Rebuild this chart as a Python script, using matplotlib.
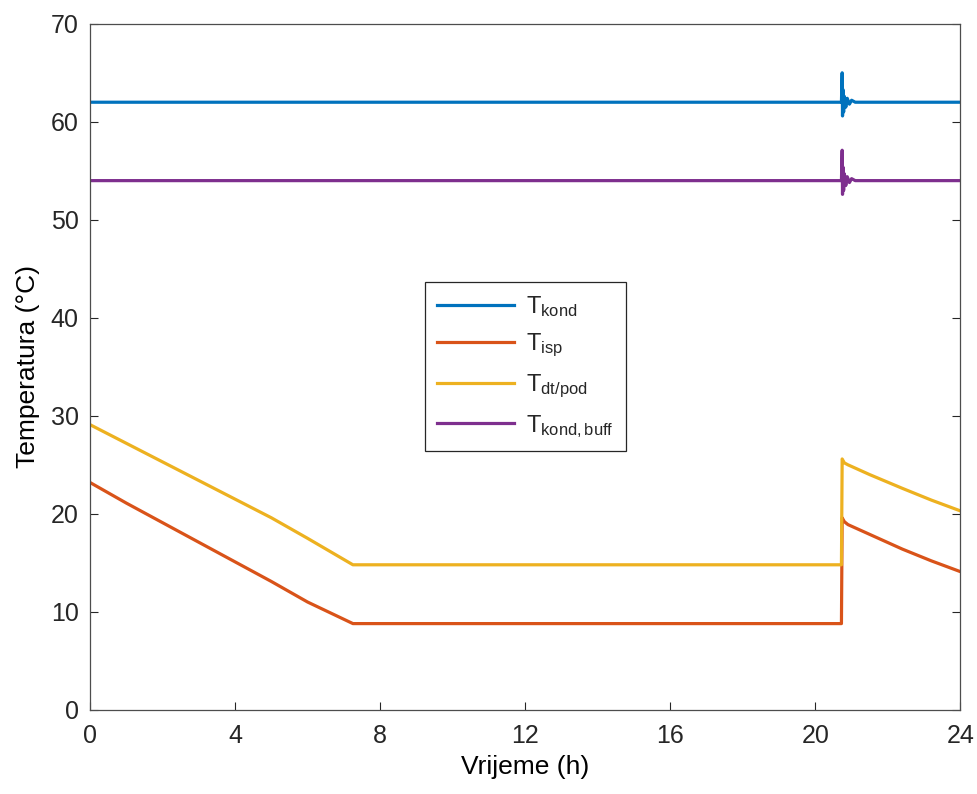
import matplotlib
matplotlib.use("Agg")
import matplotlib.pyplot as plt

plt.rcParams.update({
    'font.family': ['Liberation Sans', 'DejaVu Sans'],
    'mathtext.fontset': 'custom',
    'mathtext.rm': 'Liberation Sans',
    'mathtext.it': 'Liberation Sans',
    'axes.edgecolor': '#262626',
    'xtick.color': '#262626',
    'ytick.color': '#262626',
    'text.color': '#262626',
})

# time points (h) and temperatures (°C)
t_kond = [0, 20.72, 20.74, 20.75, 20.76, 20.78, 20.80, 20.84, 20.88, 20.94, 21.0, 21.1, 24]
T_kond = [62.0, 62.0, 65.0, 60.6, 63.3, 61.0, 62.6, 61.5, 62.4, 61.8, 62.2, 62.0, 62.0]

t_buff = [0, 20.72, 20.74, 20.75, 20.76, 20.78, 20.80, 20.84, 20.88, 20.94, 21.0, 21.1, 24]
T_buff = [54.0, 54.0, 57.1, 52.6, 55.4, 53.0, 54.7, 53.5, 54.4, 53.8, 54.2, 54.0, 54.0]

t_isp = [0, 1, 2, 3, 4, 5, 6, 7.25, 20.72, 20.74, 20.80, 20.90, 21.5, 22.4, 23.2, 24]
T_isp = [23.2, 21.1, 19.1, 17.1, 15.1, 13.1, 11.0, 8.8, 8.8, 19.6, 19.2, 18.9, 17.9, 16.4, 15.2, 14.1]

t_dt = [0, 1, 2, 3, 4, 5, 6, 7.25, 20.72, 20.74, 20.80, 20.90, 21.5, 22.4, 23.2, 24]
T_dt = [29.1, 27.2, 25.3, 23.4, 21.5, 19.6, 17.5, 14.8, 14.8, 25.6, 25.2, 25.0, 24.0, 22.6, 21.4, 20.3]

x_ticks = [0, 4, 8, 12, 16, 20, 24]
y_ticks = [0, 10, 20, 30, 40, 50, 60, 70]

C_KOND = '#0072BD'
C_ISP = '#D95319'
C_DT = '#EDB120'
C_BUFF = '#7E2F8E'

fig = plt.figure(figsize=(9.78, 7.94), dpi=100)
ax = fig.add_axes([0.092, 0.106, 0.890, 0.864])

lw = 2.3
ax.plot(t_kond, T_kond, color=C_KOND, lw=lw, label=r'T$_{\mathrm{kond}}$')
ax.plot(t_isp, T_isp, color=C_ISP, lw=lw, label=r'T$_{\mathrm{isp}}$')
ax.plot(t_dt, T_dt, color=C_DT, lw=lw, label=r'T$_{\mathrm{dt/pod}}$')
ax.plot(t_buff, T_buff, color=C_BUFF, lw=lw, label=r'T$_{\mathrm{kond,buff}}$')

ax.set_xlim(0, 24)
ax.set_ylim(0, 70)
ax.set_xticks(x_ticks)
ax.set_yticks(y_ticks)
ax.tick_params(direction='in', labelsize=18, length=6, width=0.8,
               right=True, top=False)
ax.tick_params(axis='x', pad=10)
ax.tick_params(axis='y', pad=8)
for s in ax.spines.values():
    s.set_linewidth(0.9)
    s.set_color('#4d4d4d')

ax.set_xlabel('Vrijeme (h)', fontsize=19, labelpad=5)
ax.set_ylabel('Temperatura (°C)', fontsize=19, labelpad=8)

leg = ax.legend(loc='center', fontsize=17, handlelength=3.3, handletextpad=0.5,
                labelspacing=0.55, borderpad=0.5, fancybox=False, framealpha=1)
leg.get_frame().set_edgecolor('#262626')
leg.get_frame().set_linewidth(0.9)

fig.savefig('out.png', dpi=100)
